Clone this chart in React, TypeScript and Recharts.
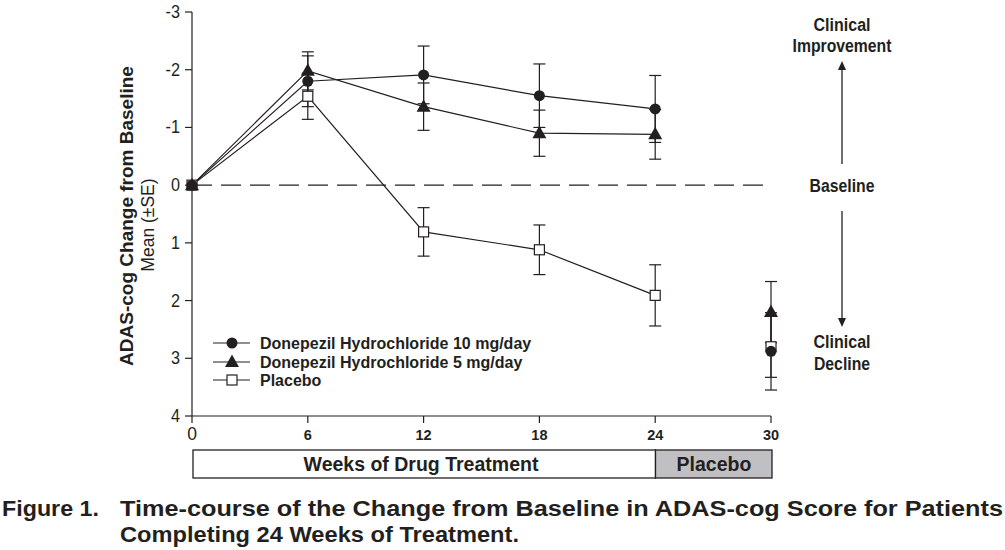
import React from 'react';
import { ComposedChart, Line, Scatter, XAxis, YAxis, ErrorBar, ReferenceLine } from 'recharts';

// ---- data ----
const weeks = [0, 6, 12, 18, 24];
const don10Mean = [0, -1.8, -1.91, -1.55, -1.32];
const don10SE = [0, 0.44, 0.5, 0.55, 0.58];
const don5Mean = [0, -1.98, -1.36, -0.9, -0.88];
const don5SE = [0, 0.33, 0.41, 0.4, 0.43];
const placeboMean = [0, -1.54, 0.81, 1.12, 1.91];
const placeboSE = [0, 0.4, 0.42, 0.43, 0.53];

const followUpWeek = 30;
const followUpMean = [2.88, 2.2, 2.8]; // 10 mg, 5 mg, placebo
const followUpSE = [0.67, 0.53, 0.53];

const seriesNames = [
  'Donepezil Hydrochloride 10 mg/day',
  'Donepezil Hydrochloride 5 mg/day',
  'Placebo',
];
const xTicks = [0, 6, 12, 18, 24, 30];
const yTicks = [-3, -2, -1, 0, 1, 2, 3, 4];

const build = (means: number[], ses: number[]) =>
  weeks.map((w, i) => ({ week: w, value: means[i], se: ses[i] }));

const d10 = build(don10Mean, don10SE);
const d5 = build(don5Mean, don5SE);
const dp = build(placeboMean, placeboSE);
const f10 = [{ week: followUpWeek, value: followUpMean[0], se: followUpSE[0] }];
const f5 = [{ week: followUpWeek, value: followUpMean[1], se: followUpSE[1] }];
const fp = [{ week: followUpWeek, value: followUpMean[2], se: followUpSE[2] }];

const INK = '#231f20';
const ARIAL = "'Liberation Sans', Arial, sans-serif";

const CircleMark = (p: any) =>
  p.cx == null ? null : <circle cx={p.cx} cy={p.cy} r={5.5} fill={INK} stroke="none" />;
const TriMark = (p: any) =>
  p.cx == null ? null : (
    <polygon
      points={`${p.cx},${p.cy - 7.5} ${p.cx - 7},${p.cy + 5} ${p.cx + 7},${p.cy + 5}`}
      fill={INK}
      stroke="none"
    />
  );
const SquareMark = (p: any) =>
  p.cx == null ? null : (
    <rect x={p.cx - 5} y={p.cy - 5} width={10} height={10} fill="#fff" stroke={INK} strokeWidth={1.2} />
  );

const XTick = (p: any) => {
  const v = p.payload.value;
  const isZero = v === 0;
  return (
    <text
      x={p.x}
      y={p.y}
      dy={15}
      textAnchor="middle"
      fill={INK}
      fontFamily={ARIAL}
      fontWeight={isZero ? 400 : 700}
      fontSize={isZero ? 17.5 : 14.5}
    >
      {v}
    </text>
  );
};

const YTick = (p: any) => (
  <text
    x={p.x}
    y={p.y}
    dy={6}
    textAnchor="end"
    fill={INK}
    fontFamily={ARIAL}
    fontSize={18}
    transform={`translate(${p.x},0) scale(0.9,1) translate(${-p.x},0)`}
  >
    {p.payload.value}
  </text>
);

const legendMarks = [CircleMark, TriMark, SquareMark];
const legendY = [343, 362, 380];

const Cond = (props: any) => (
  <text
    fontFamily={ARIAL}
    fontWeight={700}
    fill={INK}
    lengthAdjust="spacingAndGlyphs"
    {...props}
  />
);

export default function App() {
  return (
    <div style={{ position: 'absolute', left: 0, top: 0, width: 1005, height: 550, background: '#fff' }}>
      <ComposedChart
        width={1005}
        height={550}
        margin={{ top: 12, right: 234, bottom: 104, left: 132 }}
      >
        <XAxis
          type="number"
          dataKey="week"
          domain={[0, 30]}
          ticks={xTicks}
          interval={0}
          height={30}
          tickSize={7}
          axisLine={{ stroke: INK, strokeWidth: 1.2 }}
          tickLine={{ stroke: INK, strokeWidth: 1.2 }}
          tick={<XTick />}
        />
        <YAxis
          type="number"
          domain={[-3, 4]}
          reversed
          ticks={yTicks}
          interval={0}
          width={60}
          tickSize={7}
          tickMargin={5}
          axisLine={{ stroke: INK, strokeWidth: 1.2 }}
          tickLine={{ stroke: INK, strokeWidth: 1.2 }}
          tick={<YTick />}
        />
        <ReferenceLine y={0} stroke={INK} strokeWidth={1.2} strokeDasharray="20 9" />
        <Line
          data={dp}
          dataKey="value"
          name={seriesNames[2]}
          stroke={INK}
          strokeWidth={1.2}
          dot={<SquareMark />}
          isAnimationActive={false}
        >
          <ErrorBar dataKey="se" width={6} stroke={INK} strokeWidth={1.2} direction="y" />
        </Line>
        <Line
          data={d5}
          dataKey="value"
          name={seriesNames[1]}
          stroke={INK}
          strokeWidth={1.2}
          dot={<TriMark />}
          isAnimationActive={false}
        >
          <ErrorBar dataKey="se" width={6} stroke={INK} strokeWidth={1.2} direction="y" />
        </Line>
        <Line
          data={d10}
          dataKey="value"
          name={seriesNames[0]}
          stroke={INK}
          strokeWidth={1.2}
          dot={<CircleMark />}
          isAnimationActive={false}
        >
          <ErrorBar dataKey="se" width={6} stroke={INK} strokeWidth={1.2} direction="y" />
        </Line>
        <Scatter data={fp} dataKey="value" shape={SquareMark} isAnimationActive={false}>
          <ErrorBar dataKey="se" width={6} stroke={INK} strokeWidth={1.2} direction="y" />
        </Scatter>
        <Scatter data={f5} dataKey="value" shape={TriMark} isAnimationActive={false}>
          <ErrorBar dataKey="se" width={6} stroke={INK} strokeWidth={1.2} direction="y" />
        </Scatter>
        <Scatter data={f10} dataKey="value" shape={CircleMark} isAnimationActive={false}>
          <ErrorBar dataKey="se" width={6} stroke={INK} strokeWidth={1.2} direction="y" />
        </Scatter>
      </ComposedChart>

      <svg
        width={1005}
        height={550}
        style={{ position: 'absolute', left: 0, top: 0, pointerEvents: 'none' }}
      >
        {/* axis titles */}
        <text
          transform="translate(133,216) rotate(-90)"
          textAnchor="middle"
          fontFamily={ARIAL}
          fontWeight={700}
          fontSize={19}
          fill={INK}
        >
          ADAS-cog Change from Baseline
        </text>
        <text
          transform="translate(154,225) rotate(-90)"
          textAnchor="middle"
          fontFamily={ARIAL}
          fontSize={17.5}
          fill={INK}
        >
          Mean (±SE)
        </text>

        {/* legend */}
        {seriesNames.map((name, i) => {
          const M = legendMarks[i];
          return (
            <g key={name}>
              <line x1={213} x2={250} y1={legendY[i]} y2={legendY[i]} stroke={INK} strokeWidth={1.2} />
              <M cx={232} cy={legendY[i]} />
              <text x={260} y={legendY[i] + 5.5} fontFamily={ARIAL} fontWeight={700} fontSize={16} fill={INK}>
                {name}
              </text>
            </g>
          );
        })}

        {/* right annotations */}
        <g fontSize={18} textAnchor="middle">
          <Cond x={842} y={31} textLength={57}>Clinical</Cond>
          <Cond x={842} y={52} textLength={99}>Improvement</Cond>
          <Cond x={842} y={192} textLength={65}>Baseline</Cond>
          <Cond x={842} y={348} textLength={57}>Clinical</Cond>
          <Cond x={842} y={370} textLength={56}>Decline</Cond>
        </g>
        <line x1={842} x2={842} y1={164} y2={68} stroke={INK} strokeWidth={1.3} />
        <polygon points="842,61 838,70 846,70" fill={INK} />
        <line x1={842} x2={842} y1={211} y2={320} stroke={INK} strokeWidth={1.3} />
        <polygon points="842,327 838,318 846,318" fill={INK} />

        {/* bottom phase bar */}
        <rect x={193} y={450} width={462.5} height={28} fill="#fff" stroke={INK} strokeWidth={1.3} />
        <rect x={655.5} y={450} width={116.5} height={28} fill="#c0c0c4" stroke={INK} strokeWidth={1.3} />
        <text x={421} y={471} textAnchor="middle" fontFamily={ARIAL} fontWeight={700} fontSize={19.5} fill={INK}>
          Weeks of Drug Treatment
        </text>
        <text x={714} y={471} textAnchor="middle" fontFamily={ARIAL} fontWeight={700} fontSize={19.5} fill={INK}>
          Placebo
        </text>

        {/* caption */}
        <g fontSize={22.5}>
          <Cond x={2} y={516} textLength={97}>Figure 1.</Cond>
          <Cond x={120} y={516} textLength={883}>
            Time-course of the Change from Baseline in ADAS-cog Score for Patients
          </Cond>
          <Cond x={120} y={542} textLength={399}>Completing 24 Weeks of Treatment.</Cond>
        </g>
      </svg>
    </div>
  );
}
